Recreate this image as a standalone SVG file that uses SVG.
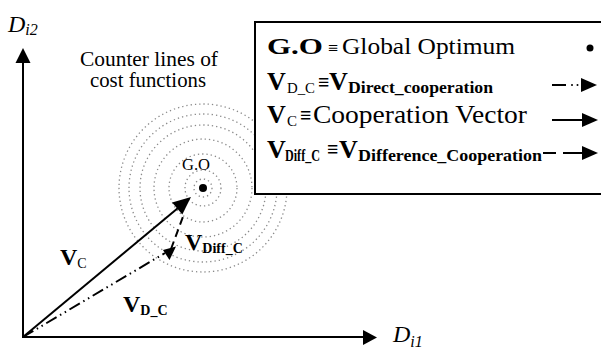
<svg xmlns="http://www.w3.org/2000/svg" width="601" height="349" viewBox="0 0 601 349">
<style>
.t{font-family:Liberation Serif, DejaVu Serif, serif;fill:#000}
.b{font-weight:bold}
.it{font-style:italic}
.ring{fill:none;stroke:#8a8a8a;stroke-width:1.3;stroke-dasharray:1.3 3}
.ln{stroke:#000;stroke-width:2;fill:none}
</style>
<rect width="601" height="349" fill="#fff"/>
<g id="contours">
<circle class="ring" cx="203" cy="188" r="9"/>
<circle class="ring" cx="203" cy="188" r="18"/>
<circle class="ring" cx="203" cy="188" r="34"/>
<circle class="ring" cx="203" cy="188" r="49"/>
<circle class="ring" cx="203" cy="188" r="63"/>
<circle class="ring" cx="203" cy="188" r="74"/>
<circle class="ring" cx="203" cy="188" r="84"/>
</g>
<g id="contour-label">
<text class="t" font-family="Liberation Serif" x="80" y="66" font-size="20" textLength="138" lengthAdjust="spacingAndGlyphs">Counter lines of</text>
<text class="t" font-family="Liberation Serif" x="90" y="87" font-size="20" textLength="116" lengthAdjust="spacingAndGlyphs">cost functions</text>
</g>
<g id="go">
<circle cx="203" cy="188" r="4"/>
<text class="t" font-family="Liberation Serif" x="182" y="170" font-size="16" textLength="28" lengthAdjust="spacingAndGlyphs">G.O</text>
</g>
<g id="axes">
<line class="ln" x1="23" y1="338" x2="23" y2="62"/>
<polygon points="15.5,63 30.5,63 23,48"/>
<line class="ln" x1="22" y1="337" x2="364" y2="337"/>
<polygon points="363,330 363,345 377,337.5"/>
<text class="t it" font-family="Liberation Serif" x="8" y="32" font-size="24">D<tspan font-size="16" dy="3">i2</tspan></text>
<text class="t it" font-family="Liberation Serif" x="393" y="342" font-size="24">D<tspan font-size="16" dy="5">i1</tspan></text>
</g>
<g id="connectors">
<line class="ln" x1="23" y1="337" x2="178" y2="208"/>
<polygon points="191,197 172.1,202.4 182.3,214.6"/>
<line x1="23" y1="337" x2="165" y2="253" stroke="#000" stroke-width="2" stroke-dasharray="12 4 1.5 4 1.5 4"/>
<polygon points="163,250 176,246.5 169.5,260"/>
<line x1="171" y1="249" x2="184" y2="214" stroke="#000" stroke-width="2" stroke-dasharray="8 5"/>
</g>
<g id="vector-labels">
<text class="t b" font-family="Liberation Serif" x="60" y="265" font-size="24">V<tspan font-size="14" font-weight="normal" dy="3">C</tspan></text>
<text class="t b" font-family="Liberation Serif" x="123" y="312" font-size="24">V<tspan font-size="14" dy="3">D_C</tspan></text>
<text class="t b" font-family="Liberation Serif" x="185" y="250" font-size="24">V<tspan font-size="14" dy="3">Diff_C</tspan></text>
</g>
<g id="legend">
<rect x="255" y="22" width="360" height="172" fill="#fff" stroke="#000" stroke-width="2"/>
<text class="t" font-family="Liberation Serif" y="54" font-size="24"><tspan x="267" class="b" textLength="56" lengthAdjust="spacingAndGlyphs">G.O</tspan><tspan x="328" font-size="18">≡</tspan><tspan x="342" textLength="173" lengthAdjust="spacingAndGlyphs">Global Optimum</tspan></text>
<circle cx="590" cy="48" r="3.5"/>
<text class="t b" font-family="Liberation Serif" y="90" font-size="26"><tspan x="267">V</tspan><tspan x="287" y="93" font-size="15" font-weight="normal" textLength="28" lengthAdjust="spacingAndGlyphs">D_C</tspan><tspan x="318" y="89" font-size="20">≡</tspan><tspan x="329" y="90">V</tspan><tspan x="348" y="93" font-size="16" textLength="145" lengthAdjust="spacingAndGlyphs">Direct_cooperation</tspan></text>
<line x1="552" y1="85" x2="566" y2="85" stroke="#000" stroke-width="2"/>
<circle cx="572" cy="85" r="1"/>
<circle cx="577.5" cy="85" r="1"/>
<polygon points="581,78 581,92 597,85"/>
<text class="t" font-family="Liberation Serif" y="123" font-size="26"><tspan x="267" class="b">V</tspan><tspan x="287" y="126" font-size="15">C</tspan><tspan x="300" y="122" font-size="20" class="b">≡</tspan><tspan x="313" y="123" font-size="25" textLength="214" lengthAdjust="spacingAndGlyphs">Cooperation Vector</tspan></text>
<line x1="552" y1="120" x2="584" y2="120" stroke="#000" stroke-width="2"/>
<polygon points="582,113 582,127 598,120"/>
<text class="t b" font-family="Liberation Serif" y="158" font-size="26"><tspan x="267">V</tspan><tspan x="285" y="161" font-size="16" textLength="35" lengthAdjust="spacingAndGlyphs">Diff_C</tspan><tspan x="327" y="156" font-size="20">≡</tspan><tspan x="339" y="158">V</tspan><tspan x="358" y="161" font-size="16" textLength="184" lengthAdjust="spacingAndGlyphs">Difference_Cooperation</tspan></text>
<line x1="543" y1="153" x2="556" y2="153" stroke="#000" stroke-width="2"/>
<line x1="563" y1="153" x2="584" y2="153" stroke="#000" stroke-width="2"/>
<polygon points="582,146 582,160 598,153"/>
</g>
</svg>
